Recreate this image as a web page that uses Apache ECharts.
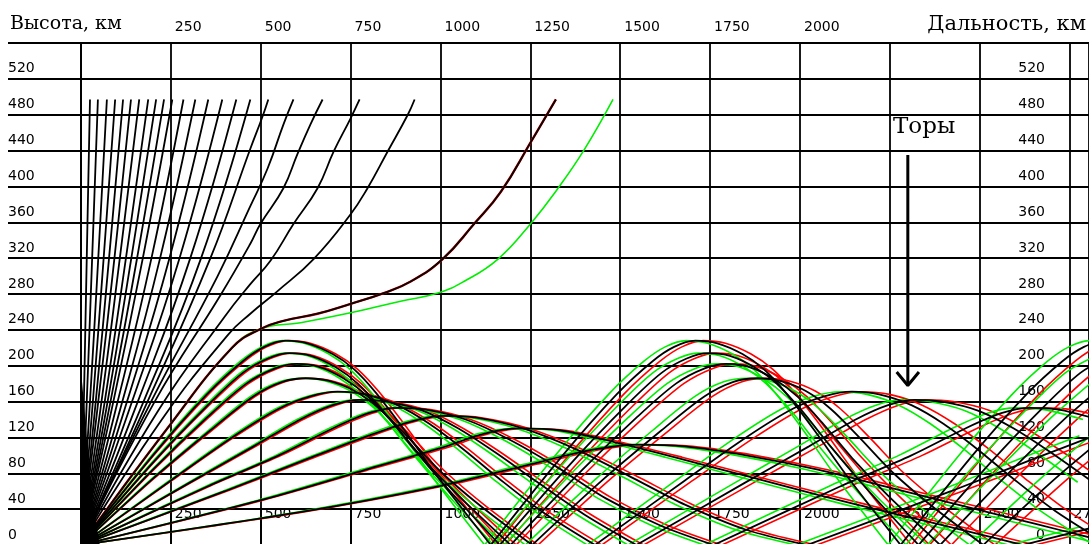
<!DOCTYPE html>
<html>
<head>
<meta charset="utf-8">
<script src="https://cdn.jsdelivr.net/npm/echarts@6/dist/echarts.min.js"></script>
<style>
html,body{margin:0;padding:0;background:#fff;}
#chart{width:1089px;height:544px;}
</style>
</head>
<body>
<div id="chart"></div>
<script>
// ---------- axis ticks / labels (km) ----------
const rangeGridLabelsTop = [250, 500, 750, 1000, 1250, 1500, 1750, 2000];
const rangeTicksTop = [250, 500, 750, 1000, 1250, 1500, 1750, 2000, 2250];
const rangeLabelsBottom = [250, 500, 750, 1000, 1250, 1500, 1750, 2000, 2250, 2500, 2750];
const heightTicksLeft = [40, 80, 120, 160, 200, 240, 280, 320, 360, 400, 440, 480, 520, 560];
const heightLabels = [0, 40, 80, 120, 160, 200, 240, 280, 320, 360, 400, 440, 480, 520];

// ---------- escaping rays: [range km, height km] ----------
const escapeRays = [
  [[0,0],[8,160],[16,320],[25,497]],
  [[0,0],[16,160],[31,320],[47,497]],
  [[0,0],[25,160],[48,320],[72,497]],
  [[0,0],[33,160],[63,320],[95,497]],
  [[0,0],[41,160],[78,320],[117,497]],
  [[0,0],[48,160],[93,320],[139,497]],
  [[0,0],[57,160],[108,320],[162,497]],
  [[0,0],[66,160],[125,320],[187,497]],
  [[0,0],[74,160],[140,320],[209,497]],
  [[0,0],[82,160],[156,320],[231,497]],
  [[0,0],[90,160],[172,320],[254,497]],
  [[0,0],[102,160],[196,320],[285,497]],
  [[0,0],[115,160],[220,320],[318,497]],
  [[0,0],[128,160],[246,320],[354,497]],
  [[0,0],[142,160],[274,320],[393,497]],
  [[0,0],[158,160],[304,320],[432,497]],
  [[0,0],[174,160],[334,320],[471,497]],
  [[0,0],[185,160],[360,320],[471,442],[505,478],[521,497]],
  [[0,0],[195,160],[380,300],[471,378],[519,420],[563,469],[591,497]],
  [[0,0],[205,160],[390,280],[471,336],[499,358],[563,398],[602,436],[638,469],[672,497]],
  [[0,0],[215,150],[400,255],[471,291],[527,317],[591,358],[658,398],[703,439],[750,476],[775,497]],
  [[0,0],[225,140],[410,235],[471,258],[546,283],[647,319],[750,369],[797,398],[853,439],[909,480],[928,497]],
  [[0,0],[240,130],[420,220],[499,241],[563,250],[658,258],[750,269],[842,281],[917,294],[1006,319],[1093,358],[1168,394],[1252,450],[1321,497]]
];
const escapeGreen = [[0,0],[240,130],[420,220],[499,241],[611,248],[750,259],[889,272],[993,281],[1065,294],[1160,319],[1252,359],[1327,398],[1400,441],[1480,497]];

// dense near-vertical bundle at the source
const sourceBundle = [[0,195],[4,195],[10,150],[20,100],[33,50],[52,0]];

// ---------- reflected rays, hop by hop ----------
const rayA = [
  [[0,0],[200,100],[350,168],[450,205],[510,221],[569,228],[630,225],[700,213],[760,196],[820,170],[900,128],[1000,72],[1140,0]],
  [[1140,0],[1340,100],[1490,168],[1590,205],[1650,221],[1709,228],[1770,225],[1840,213],[1900,196],[1960,170],[2040,128],[2140,72],[2280,0]],
  [[2280,0],[2480,100],[2630,168],[2730,205],[2790,221],[2849,228],[2910,225]]
];
const rayB = [
  [[0,0],[200,92],[350,155],[450,192],[520,208],[580,214],[640,211],[710,198],[770,180],[840,150],[920,110],[1020,63],[1165,0]],
  [[1165,0],[1365,92],[1515,155],[1615,192],[1685,208],[1745,214],[1805,211],[1875,198],[1935,180],[2005,150],[2085,110],[2185,63],[2330,0]],
  [[2330,0],[2530,92],[2680,155],[2780,192],[2850,208]]
];
const rayC = [
  [[0,0],[200,84],[350,142],[460,180],[540,197],[600,202],[660,199],[730,186],[800,165],[870,135],[950,97],[1050,55],[1195,0]],
  [[1195,0],[1395,84],[1545,142],[1655,180],[1735,197],[1795,202],[1855,199],[1925,186],[1995,165],[2065,135],[2145,97],[2245,55],[2390,0]],
  [[2390,0],[2590,84],[2740,142],[2850,180]]
];
const rayD = [
  [[0,0],[200,74],[360,128],[480,166],[560,182],[625,186],[690,183],[760,172],[830,152],[910,120],[1000,82],[1110,44],[1255,0]],
  [[1255,0],[1455,74],[1615,128],[1735,166],[1815,182],[1880,186],[1945,183],[2015,172],[2085,152],[2165,120],[2255,82],[2365,44],[2510,0]],
  [[2510,0],[2710,74],[2870,128]]
];
const rayE = [
  [[0,0],[250,72],[420,120],[550,152],[640,166],[714,171],[790,168],[880,156],[970,135],[1060,108],[1160,75],[1280,38],[1430,0]],
  [[1430,0],[1680,72],[1850,120],[1980,152],[2070,166],[2144,171],[2220,168],[2310,156],[2400,135],[2490,108],[2590,75],[2710,38],[2860,0]]
];
const rayF = [
  [[0,0],[300,69],[480,110],[610,140],[700,156],[775,162],[850,160],[950,150],[1050,130],[1150,104],[1270,70],[1400,34],[1545,0]],
  [[1545,0],[1845,69],[2025,110],[2155,140],[2245,156],[2320,162],[2395,160],[2495,150],[2595,130],[2695,104],[2815,70]]
];
const rayG = [
  [[0,0],[350,65],[550,100],[700,130],[800,147],[880,153],[960,151],[1070,140],[1190,118],[1320,88],[1460,52],[1610,22],[1760,0]],
  [[1760,0],[2110,65],[2310,100],[2460,130],[2560,147],[2640,153],[2720,151],[2830,140]]
];
const rayH = [
  [[0,0],[400,60],[630,96],[800,122],[920,138],[1010,144],[1100,142],[1230,130],[1370,108],[1520,78],[1680,45],[1850,17],[2020,0]],
  [[2020,0],[2420,60],[2650,96],[2820,122]]
];
const rayI = [
  [[0,0],[500,50],[800,85],[1000,108],[1120,124],[1220,130],[1330,128],[1450,118],[1650,98],[1850,77],[2050,56],[2250,36],[2450,17],[2620,0]],
  [[2620,0],[2820,20]]
];
const rayJ = [
  [[0,0],[600,36],[1000,66],[1250,90],[1420,106],[1550,112],[1680,110],[1850,100],[2050,84],[2250,64],[2450,44],[2650,24],[2850,4]]
];
const bounceRays = [rayA, rayB, rayC, rayD, rayE, rayF, rayG, rayH, rayI, rayJ];

// annotation arrow (range km, height km)
const arrowShaft = [[2300,435],[2300,180]];
const arrowHead = [[2269,193],[2300,178],[2331,193]];

// ---------- build ----------
const FONT = 'DejaVu Sans';
const series = [];
function addLine(data, color, width, xi, z, smooth) {
  series.push({
    type: 'line', xAxisIndex: xi, yAxisIndex: 0, data: data,
    symbol: 'none', smooth: smooth === undefined ? 0.3 : smooth,
    lineStyle: { color: color, width: width }, z: z,
    silent: true, animation: false, clip: true
  });
}
series.push({
  type: 'line', xAxisIndex: 0, yAxisIndex: 0, data: sourceBundle, symbol: 'none',
  lineStyle: { width: 0 }, areaStyle: { color: '#000', opacity: 1 }, z: 5, silent: true, animation: false
});
bounceRays.forEach(function (ray) {
  ray.forEach(function (hop) {
    addLine(hop, '#ff0000', 1.6, 2, 2);
    addLine(hop, '#00ee00', 1.6, 3, 3);
    addLine(hop, '#000000', 1.8, 0, 5);
  });
});
addLine(escapeGreen, '#00ee00', 1.6, 0, 3, 0.45);
addLine(escapeRays[escapeRays.length - 1], '#ff0000', 2.4, 0, 4, 0.45);
escapeRays.forEach(function (r) { addLine(r, '#000000', 1.8, 0, 5, 0.45); });
addLine(arrowShaft, '#000', 3, 0, 6, false);
addLine(arrowHead, '#000', 3, 0, 6, false);

const plain = function (v) { return String(v); };
const lab = { color: '#000', fontFamily: FONT, fontSize: 14, formatter: plain };
const gridLine = { color: '#000', width: 1.8 };

const option = {
  animation: false,
  backgroundColor: '#fff',
  grid: { left: 81, top: 43, width: 1008, height: 502, containLabel: false, outerBoundsMode: 'none' },
  xAxis: [
    { type: 'value', min: 0, max: 2804, interval: 250, position: 'bottom',
      axisLine: { show: false }, axisTick: { show: false },
      splitLine: { show: true, lineStyle: gridLine },
      axisLabel: Object.assign({ inside: true, customValues: rangeLabelsBottom, margin: 24, align: 'left', padding: [0,0,0,4] }, lab) },
    { type: 'value', min: 0, max: 2804, position: 'top',
      axisLine: { show: false }, splitLine: { show: false },
      axisTick: { show: true, customValues: rangeTicksTop, length: 35, lineStyle: gridLine },
      axisLabel: Object.assign({ customValues: rangeGridLabelsTop, margin: 9, align: 'left', padding: [0,0,0,4] }, lab) },
    { type: 'value', min: 0, max: 2768, show: false },
    { type: 'value', min: 0, max: 2847, show: false }
  ],
  yAxis: [
    { type: 'value', min: 0, max: 560, interval: 40, position: 'left',
      axisLine: { show: true, lineStyle: gridLine },
      splitLine: { show: true, lineStyle: gridLine },
      axisTick: { show: true, customValues: heightTicksLeft, length: 73, lineStyle: gridLine },
      axisLabel: Object.assign({ customValues: heightLabels, margin: 73, align: 'left', verticalAlign: 'bottom', padding: [0,0,3,0] }, lab) },
    { type: 'value', min: 0, max: 560, position: 'right',
      axisLine: { show: false }, splitLine: { show: false }, axisTick: { show: false },
      axisLabel: Object.assign({ inside: true, customValues: heightLabels, margin: 44, align: 'right', verticalAlign: 'bottom', padding: [0,0,3,0] }, lab) }
  ],
  graphic: [
    { type: 'text', left: 10, top: 15, z: 10, style: { text: 'Высота, км', font: '19px "DejaVu Serif"', fill: '#000' } },
    { type: 'text', right: 3, top: 14, z: 10, style: { text: 'Дальность, км', font: '21px "DejaVu Serif"', fill: '#000' } },
    { type: 'text', left: 893, top: 116, z: 10, style: { text: 'Торы', font: '23px "DejaVu Serif"', fill: '#000' } }
  ],
  series: series
};
const chart = echarts.init(document.getElementById('chart'), null, { renderer: 'canvas' });
chart.setOption(option);
</script>
</body>
</html>
